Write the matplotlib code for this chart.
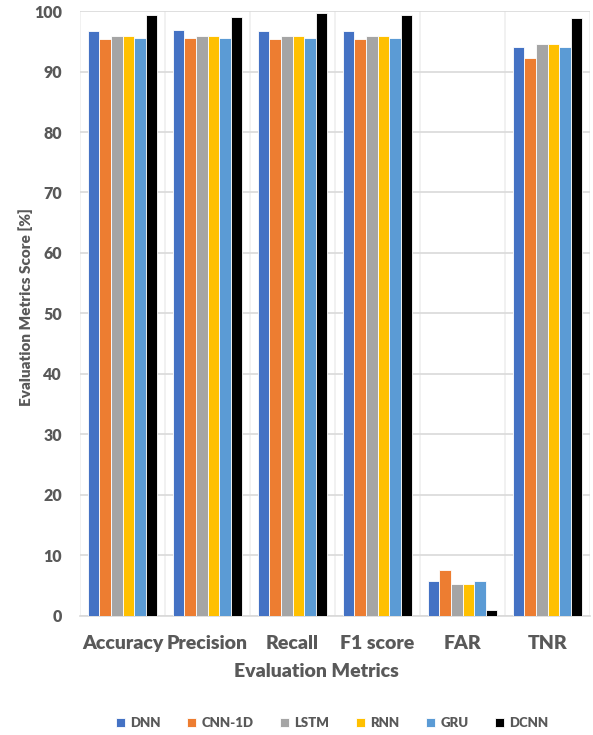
import numpy as np
import matplotlib.pyplot as plt

plt.rcParams['font.family'] = ['Lato', 'DejaVu Sans']

metrics = ['Accuracy', 'Precision', 'Recall', 'F1 score', 'FAR', 'TNR']
models = ['DNN', 'CNN-1D', 'LSTM', 'RNN', 'GRU', 'DCNN']
colors = ['#4472c4', '#ed7d31', '#a5a5a5', '#ffc000', '#5b9bd5', '#000000']

dnn = [96.7, 96.9, 96.7, 96.7, 5.8, 94.0]
cnn_1d = [95.3, 95.6, 95.3, 95.3, 7.6, 92.3]
lstm = [95.8, 95.8, 95.8, 95.8, 5.3, 94.6]
rnn = [95.8, 95.8, 95.8, 95.8, 5.3, 94.5]
gru = [95.6, 95.6, 95.6, 95.6, 5.7, 94.0]
dcnn = [99.3, 99.0, 99.6, 99.3, 0.9, 98.9]
scores = [dnn, cnn_1d, lstm, rnn, gru, dcnn]

grey = '#595959'

fig = plt.figure(figsize=(5.93, 7.35), dpi=100)
ax = fig.add_axes([0.135, 0.162, 0.86, 0.823])

x = np.arange(len(metrics))
w = 0.137
for k, (name, vals) in enumerate(zip(models, scores)):
    ax.bar(x + (k - 2.5) * w, vals, w, color=colors[k], edgecolor='white',
           linewidth=0.6, label=name, zorder=3)

ax.set_xlim(-0.5, len(metrics) - 0.5)
ax.set_ylim(0, 100)
ax.set_yticks(range(0, 101, 10))
ax.set_xticks(x)
ax.set_xticklabels(metrics, fontsize=14, fontweight='heavy', color=grey)
ax.set_xticks(np.arange(-0.5, len(metrics), 0.5), minor=True)
ax.tick_params(axis='y', labelsize=11.5, labelcolor=grey, length=0, pad=13)
ax.tick_params(axis='x', length=0, pad=14)
ax.tick_params(axis='x', which='minor', length=0)
for lab in ax.get_yticklabels():
    lab.set_fontweight('heavy')

ax.grid(axis='y', color='#d9d9d9', linewidth=1.2, zorder=0)
ax.grid(axis='x', which='minor', color='#efefef', linewidth=1.2, zorder=0)
for s in ['top', 'right', 'left']:
    ax.spines[s].set_visible(False)
ax.spines['bottom'].set_color('#d9d9d9')
ax.spines['bottom'].set_linewidth(1.2)

ax.set_ylabel('Evaluation Metrics Score [%]', fontsize=11, fontweight='heavy',
              color=grey)
ax.yaxis.set_label_coords(-0.092, 0.51)
ax.set_xlabel('Evaluation Metrics', fontsize=14, fontweight='heavy', color=grey)
ax.xaxis.set_label_coords(0.463, -0.078)

fig.legend(loc='center', bbox_to_anchor=(0.56, 12 / 735), ncol=6, frameon=False,
           handlelength=0.7, handleheight=0.7, columnspacing=2.0,
           handletextpad=0.4, labelcolor=grey,
           prop={'weight': 'heavy', 'size': 9.5})

fig.savefig('out.png', dpi=100)
